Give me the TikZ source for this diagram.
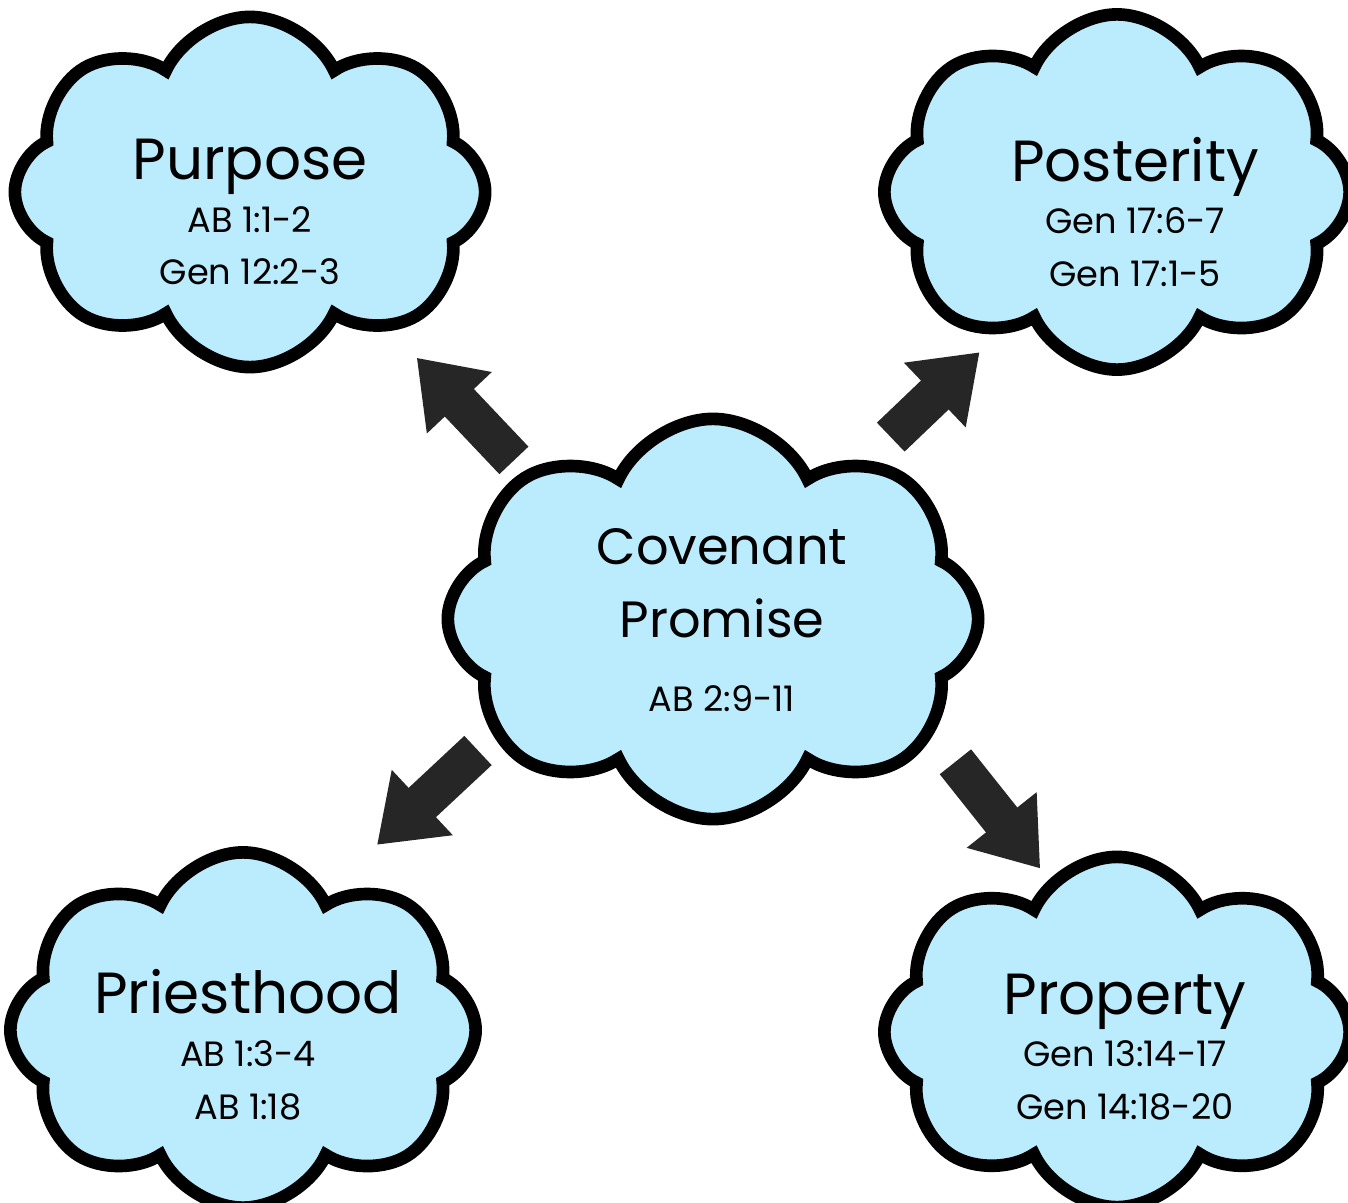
\documentclass[tikz,border=0pt]{standalone}
\usepackage{fontspec}
\setmainfont{Poppins}
\usetikzlibrary{shapes.symbols}
\usetikzlibrary{arrows.meta}
\usetikzlibrary{calc}

\definecolor{skyfill}{RGB}{187,236,253}
\newcommand{\headword}[1]{{\fontsize{16.5}{21}\selectfont #1}}

\tikzset{
  bubble/.style={cloud, cloud puffs=8, cloud puff arc=130, cloud ignores aspect,
    draw=black, fill=skyfill, line width=3.6pt, inner sep=0pt},
  verse/.style={align=center, font=\fontsize{10}{15}\selectfont},
  pointer/.style={draw=black!85, line width=0.4cm,
    -{Triangle[width=0.85cm, length=0.62cm]}}
}

\begin{document}
\begin{tikzpicture}[x=0.01cm, y=-0.01cm]
\clip (0,0) rectangle (1348,1203);

% covenant promise
\node[bubble, minimum width=5.3cm, minimum height=4cm] (cov) at (713,619) {};
\node[verse, font=\fontsize{14.5}{21}\selectfont] (cov-t) at (722,620)
  {Covenant\\Promise\\{\fontsize{10}{22}\selectfont AB 2:9-11}};

% purpose
\node[bubble, minimum width=4.7cm, minimum height=3.5cm] (purp) at (250,192) {};
\node[verse] (purp-t) at (250,212) {\headword{Purpose}\\AB 1:1-2\\Gen 12:2-3};

% posterity
\node[bubble, minimum width=4.65cm, minimum height=3.55cm] (post) at (1117,192) {};
\node[verse] (post-t) at (1135,212) {\headword{Posterity}\\Gen 17:6-7\\Gen 17:1-5};

% priesthood
\node[bubble, minimum width=4.65cm, minimum height=3.55cm] (prie) at (243,1030) {};
\node[verse] (prie-t) at (248,1045) {\headword{Priesthood}\\AB 1:3-4\\AB 1:18};

% property
\node[bubble, minimum width=4.65cm, minimum height=3.5cm] (prop) at (1117,1032) {};
\node[verse] (prop-t) at (1125,1047) {\headword{Property}\\Gen 13:14-17\\Gen 14:18-20};

% arrows out of the middle
\draw[pointer] ($(cov)!0.43!(purp)+(0,25)$) -- ($(cov)!0.64!(purp)+(0,12)$);
\draw[pointer] ($(cov)!0.44!(post)+(0,6)$) -- ($(cov)!0.66!(post)+(0,15)$);
\draw[pointer] ($(cov)!0.5!(prie)+(0,-74)$) -- ($(cov)!0.715!(prie)+(0,-68)$);
\draw[pointer] ($(cov)!0.6!(prop)+(0,-105)$) -- ($(cov)!0.81!(prop)+(0,-85)$);
\end{tikzpicture}
\end{document}
